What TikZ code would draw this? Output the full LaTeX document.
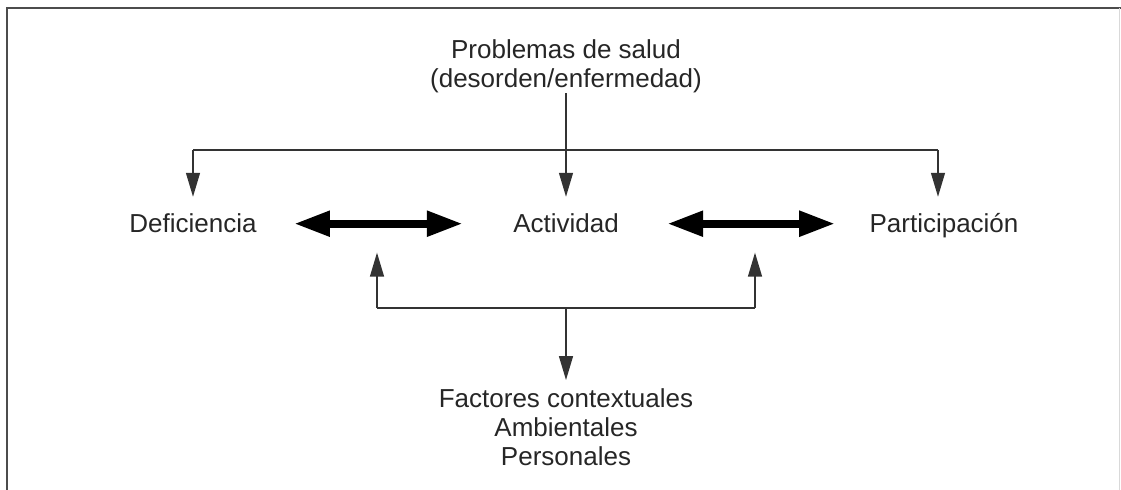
\documentclass[tikz,border=0pt]{standalone}
\usepackage{fontspec}
\setmainfont{Liberation Sans}
\usetikzlibrary{arrows.meta}
\tikzset{
  lbl/.style={inner sep=0pt, font=\fontsize{13}{14.5}\selectfont, align=center, text=black!85},
  thinline/.style={line width=0.7pt, black!80},
  thinarrow/.style={thinline, -{Triangle[length=12pt,width=7pt]}},
  bigarrow/.style={line width=4pt, {Triangle[length=18pt,width=12pt]}-{Triangle[length=18pt,width=12pt]}},
}
\begin{document}
\begin{tikzpicture}[x=0.5pt,y=-0.5pt]
	\useasboundingbox (0,0) rectangle (1121,490);
	% marco
	\draw[line width=1pt, black!70] (7,490) -- (7,8) -- (1121,8);
	\draw[black!15] (1119,8) -- (1119,490);
	% textos
	\node[lbl] (prob) at (566,66) {Problemas de salud\\(desorden/enfermedad)};
	\node[lbl, anchor=base] (def) at (193,233) {Deficiencia};
	\node[lbl, anchor=base] (act) at (566,233) {Actividad};
	\node[lbl, anchor=base] (part) at (944,233) {Participación};
	\node[lbl] (fact) at (566,427) {Factores contextuales\\Ambientales\\Personales};
	% ramas
	\coordinate (up) at (566,150);
	\coordinate (lo1) at (377,308);
	\coordinate (lo2) at (755,308);
	\coordinate (pr) at ([xshift=-3pt]part.center |- def.north);
	\draw[thinline] (def.north |- up) -- (pr |- up);
	\draw[thinarrow, shorten >=8.5pt] (prob.south) -- (act.north);
	\draw[thinarrow, shorten >=8.5pt] (def.north |- up) -- (def.north);
	\draw[thinarrow, shorten >=8.5pt] (pr |- up) -- (pr);
	\draw[bigarrow, shorten <=18.5pt, shorten >=25pt] (def.east) -- (act.west);
	\draw[bigarrow, shorten <=24pt, shorten >=17pt] (act.east) -- (def.east -| part.west);
	\draw[thinline] (lo1) -- (lo2);
	\draw[thinarrow, shorten >=9.5pt] (lo1) -- (lo1 |- def.south);
	\draw[thinarrow, shorten >=9.5pt] (lo2) -- (lo2 |- def.south);
	\draw[thinarrow, shorten >=4pt] (act.south |- lo1) -- (fact.north);
\end{tikzpicture}
\end{document}
